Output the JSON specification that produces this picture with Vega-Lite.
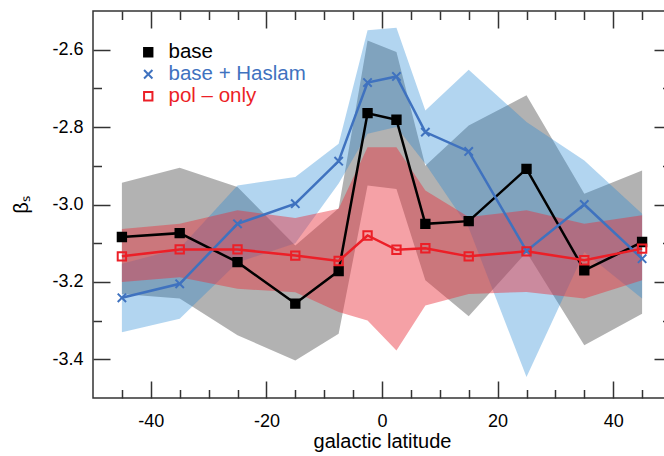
{
  "$schema": "https://vega.github.io/schema/vega-lite/v6.json",
  "width": 578,
  "height": 387,
  "autosize": {"type": "none"},
  "padding": {"left": 93, "top": 11, "right": -7, "bottom": 58},
  "background": "white",
  "config": {"view": {"stroke": "#333", "strokeWidth": 1.5}, "font": "Liberation Sans",
    "axis": {"tickColor": "#333", "tickWidth": 1.5, "domain": false, "grid": false, "labelFlush": false, "labelOverlap": false, "ticks": true}},
  "data": {"values": [
    {"lat": -45, "series": "base", "beta": -3.084, "lo": -3.231, "hi": -2.944},
    {"lat": -35, "series": "base", "beta": -3.074, "lo": -3.243, "hi": -2.905},
    {"lat": -25, "series": "base", "beta": -3.149, "lo": -3.338, "hi": -2.955},
    {"lat": -15, "series": "base", "beta": -3.256, "lo": -3.403, "hi": -3.106},
    {"lat": -7.5, "series": "base", "beta": -3.172, "lo": -3.334, "hi": -3.010},
    {"lat": -2.5, "series": "base", "beta": -2.764, "lo": -2.951, "hi": -2.576},
    {"lat": 2.5, "series": "base", "beta": -2.781, "lo": -2.960, "hi": -2.606},
    {"lat": 7.5, "series": "base", "beta": -3.050, "lo": -3.196, "hi": -2.900},
    {"lat": 15, "series": "base", "beta": -3.043, "lo": -3.289, "hi": -2.796},
    {"lat": 25, "series": "base", "beta": -2.908, "lo": -3.123, "hi": -2.718},
    {"lat": 35, "series": "base", "beta": -3.170, "lo": -3.364, "hi": -2.972},
    {"lat": 45, "series": "base", "beta": -3.097, "lo": -3.282, "hi": -2.912},
    {"lat": -45, "series": "base + Haslam", "beta": -3.241, "lo": -3.330, "hi": -3.153},
    {"lat": -35, "series": "base + Haslam", "beta": -3.205, "lo": -3.295, "hi": -3.114},
    {"lat": -25, "series": "base + Haslam", "beta": -3.050, "lo": -3.150, "hi": -2.951},
    {"lat": -15, "series": "base + Haslam", "beta": -2.998, "lo": -3.100, "hi": -2.929},
    {"lat": -7.5, "series": "base + Haslam", "beta": -2.888, "lo": -2.946, "hi": -2.843},
    {"lat": -2.5, "series": "base + Haslam", "beta": -2.685, "lo": -2.817, "hi": -2.550},
    {"lat": 2.5, "series": "base + Haslam", "beta": -2.669, "lo": -2.800, "hi": -2.543},
    {"lat": 7.5, "series": "base + Haslam", "beta": -2.813, "lo": -2.895, "hi": -2.757},
    {"lat": 15, "series": "base + Haslam", "beta": -2.863, "lo": -3.060, "hi": -2.652},
    {"lat": 25, "series": "base + Haslam", "beta": -3.120, "lo": -3.446, "hi": -2.787},
    {"lat": 35, "series": "base + Haslam", "beta": -3.000, "lo": -3.123, "hi": -2.886},
    {"lat": 45, "series": "base + Haslam", "beta": -3.140, "lo": -3.243, "hi": -3.024},
    {"lat": -45, "series": "pol – only", "beta": -3.134, "lo": -3.200, "hi": -3.063},
    {"lat": -35, "series": "pol – only", "beta": -3.116, "lo": -3.188, "hi": -3.050},
    {"lat": -25, "series": "pol – only", "beta": -3.116, "lo": -3.218, "hi": -3.015},
    {"lat": -15, "series": "pol – only", "beta": -3.132, "lo": -3.227, "hi": -3.035},
    {"lat": -7.5, "series": "pol – only", "beta": -3.146, "lo": -3.278, "hi": -3.011},
    {"lat": -2.5, "series": "pol – only", "beta": -3.080, "lo": -3.300, "hi": -2.852},
    {"lat": 2.5, "series": "pol – only", "beta": -3.117, "lo": -3.377, "hi": -2.852},
    {"lat": 7.5, "series": "pol – only", "beta": -3.113, "lo": -3.261, "hi": -2.964},
    {"lat": 15, "series": "pol – only", "beta": -3.134, "lo": -3.231, "hi": -3.032},
    {"lat": 25, "series": "pol – only", "beta": -3.121, "lo": -3.226, "hi": -3.015},
    {"lat": 35, "series": "pol – only", "beta": -3.144, "lo": -3.243, "hi": -3.050},
    {"lat": 45, "series": "pol – only", "beta": -3.114, "lo": -3.196, "hi": -3.028}
  ]},
  "layer": [
    {
      "transform": [{"filter": "datum.series === 'base'"}],
      "mark": {"type": "area", "fill": "#000000", "fillOpacity": 0.3, "interpolate": "linear"},
      "encoding": {
        "x": {"field": "lat", "type": "quantitative", "scale": {"domain": [-50, 50], "nice": false, "zero": false},
          "axis": {"orient": "bottom", "values": [-40, -20, 0, 20, 40], "tickSize": 17, "offset": -17,
            "labelExpr": "datum.value < 0 ? '-' + abs(datum.value) : '' + datum.value",
            "labelPadding": 14, "labelFontSize": 18, "labelFont": "Liberation Sans", "labelColor": "#000",
            "title": "galactic latitude", "titleFont": "Liberation Sans", "titleFontSize": 20, "titleFontWeight": "normal", "titleColor": "#000", "titlePadding": 1}},
        "y": {"field": "lo", "type": "quantitative", "scale": {"domain": [-3.5, -2.5], "nice": false, "zero": false},
          "axis": {"orient": "left", "values": [-3.4, -3.2, -3.0, -2.8, -2.6], "tickSize": 17, "offset": -17,
            "labelExpr": "'-' + format(abs(datum.value), '.1f')",
            "labelPadding": 10, "labelFontSize": 18, "labelFont": "Liberation Sans", "labelColor": "#000",
            "title": "βₛ", "titleFont": "Liberation Sans", "titleFontSize": 20, "titleFontWeight": "normal", "titleColor": "#000", "titlePadding": 20}},
        "y2": {"field": "hi"}
      }
    },
    {
      "transform": [{"filter": "datum.series === 'base + Haslam'"}],
      "mark": {"type": "area", "fill": "#2387d4", "fillOpacity": 0.35, "interpolate": "linear"},
      "encoding": {
        "x": {"field": "lat", "type": "quantitative",
          "axis": {"orient": "top", "values": [-40, -20, 0, 20, 40], "tickSize": 17, "offset": -17, "labels": false, "title": null}},
        "y": {"field": "lo", "type": "quantitative",
          "axis": {"orient": "right", "values": [-3.4, -3.2, -3.0, -2.8, -2.6], "tickSize": 17, "offset": -17, "labels": false, "title": null}},
        "y2": {"field": "hi"}
      }
    },
    {
      "transform": [{"filter": "datum.series === 'pol – only'"}],
      "mark": {"type": "area", "fill": "#e92e39", "fillOpacity": 0.45, "interpolate": "linear"},
      "encoding": {
        "x": {"field": "lat", "type": "quantitative",
          "axis": {"orient": "bottom", "values": [-45, -35, -30, -25, -15, -10, -5, 5, 10, 15, 25, 30, 35, 45], "tickSize": 8.5, "offset": -8.5, "labels": false, "title": null}},
        "y": {"field": "lo", "type": "quantitative",
          "axis": {"orient": "left", "values": [-3.3, -3.1, -2.9, -2.7], "tickSize": 8.5, "offset": -8.5, "labels": false, "title": null}},
        "y2": {"field": "hi"}
      }
    },
    {
      "mark": {"type": "line", "strokeWidth": 2.5},
      "encoding": {
        "x": {"field": "lat", "type": "quantitative",
          "axis": {"orient": "top", "values": [-45, -35, -30, -25, -15, -10, -5, 5, 10, 15, 25, 30, 35, 45], "tickSize": 8.5, "offset": -8.5, "labels": false, "title": null}},
        "y": {"field": "beta", "type": "quantitative",
          "axis": {"orient": "right", "values": [-3.3, -3.1, -2.9, -2.7], "tickSize": 8.5, "offset": -8.5, "labels": false, "title": null}},
        "detail": {"field": "series", "type": "nominal"},
        "stroke": {"condition": [{"test": "datum.series === 'base'", "value": "#000000"}, {"test": "datum.series === 'base + Haslam'", "value": "#3f72bf"}], "value": "#ec1f27"}
      }
    },
    {
      "mark": {"type": "point", "strokeWidth": 2, "size": 70, "opacity": 1},
      "encoding": {
        "x": {"field": "lat", "type": "quantitative", "axis": null},
        "y": {"field": "beta", "type": "quantitative", "axis": null},
        "stroke": {"field": "series", "type": "nominal",
          "scale": {"domain": ["base", "base + Haslam", "pol – only"], "range": ["#000000", "#3f72bf", "#ec1f27"]},
          "legend": {"orient": "none", "legendX": 45, "legendY": 31, "title": null, "labelFontSize": 20.5, "labelFont": "Liberation Sans",
            "labelColor": {"expr": "datum.value === 'base' ? '#000000' : datum.value === 'base + Haslam' ? '#3f72bf' : '#ec1f27'"},
            "symbolSize": 70, "symbolStrokeWidth": 2, "labelOffset": 10, "rowPadding": 1, "padding": 0, "labelLimit": 300}},
        "shape": {"field": "series", "type": "nominal",
          "scale": {"domain": ["base", "base + Haslam", "pol – only"], "range": ["square", "M-1,-1L1,1M-1,1L1,-1", "square"]},
          "legend": {"orient": "none", "legendX": 45, "legendY": 31, "title": null, "labelFontSize": 20.5, "labelFont": "Liberation Sans",
            "labelColor": {"expr": "datum.value === 'base' ? '#000000' : datum.value === 'base + Haslam' ? '#3f72bf' : '#ec1f27'"},
            "symbolSize": 70, "symbolStrokeWidth": 2, "labelOffset": 10, "rowPadding": 1, "padding": 0, "labelLimit": 300}},
        "fill": {"field": "series", "type": "nominal",
          "scale": {"domain": ["base", "base + Haslam", "pol – only"], "range": ["#000000", "transparent", "transparent"]},
          "legend": {"orient": "none", "legendX": 45, "legendY": 31, "title": null, "labelFontSize": 20.5, "labelFont": "Liberation Sans",
            "labelColor": {"expr": "datum.value === 'base' ? '#000000' : datum.value === 'base + Haslam' ? '#3f72bf' : '#ec1f27'"},
            "symbolSize": 70, "symbolStrokeWidth": 2, "labelOffset": 10, "rowPadding": 1, "padding": 0, "labelLimit": 300}}
      }
    }
  ],
  "resolve": {"axis": {"x": "independent", "y": "independent"}}
}
